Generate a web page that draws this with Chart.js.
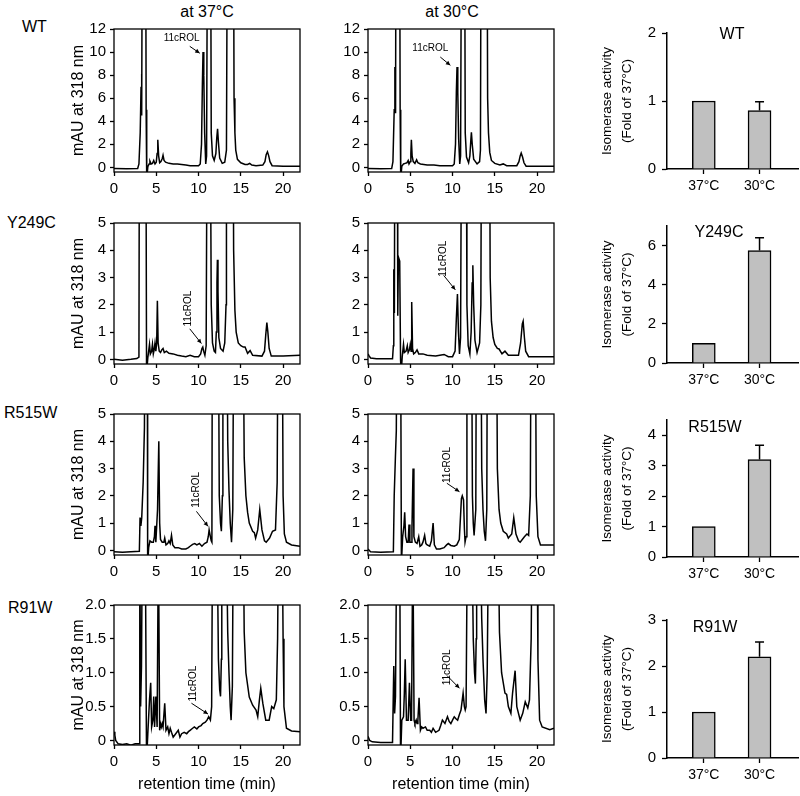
<!DOCTYPE html>
<html>
<head>
<meta charset="utf-8">
<script src="https://cdn.jsdelivr.net/npm/chart.js@4/dist/chart.umd.min.js"></script>
<style>
  body { margin: 0; background: #fff; width: 800px; height: 796px; position: relative; overflow: hidden;
         font-family: Arial, "Liberation Sans", sans-serif; }
  canvas { position: absolute; }
  .lbl { position: absolute; font-size: 16px; color: #000; white-space: nowrap; line-height: 1;
         transform: translate(-50%, -50%); }
  .row { position: absolute; font-size: 16px; color: #000; white-space: nowrap; line-height: 1;
         transform: translateY(-50%); }
</style>
</head>
<body>
<div class="lbl" style="left:207px;top:12px">at 37°C</div>
<div class="lbl" style="left:452px;top:12px">at 30°C</div>
<div class="row" style="left:22px;top:27px">WT</div>
<div class="row" style="left:7px;top:223px">Y249C</div>
<div class="row" style="left:4px;top:413px">R515W</div>
<div class="row" style="left:8px;top:608px">R91W</div>

<script>
// ---- chromatogram traces: [retention time (min), mAU] ----
const wt37 = [[0,-0.1],[1.5,-0.12],[2.8,-0.1],[2.95,0.3],[3.1,3],[3.2,7],[3.25,8.1],[3.3,4.5],[3.38,30],[3.72,30],[3.8,5],[3.87,-1],[4.0,0.05],[4.15,0.3],[4.25,0.55],[4.4,0.3],[4.55,0.35],[4.7,0.6],[4.85,0.3],[5.0,0.45],[5.1,1.2],[5.18,2.4],[5.28,1.0],[5.4,0.4],[5.55,0.5],[5.7,0.75],[5.8,1.05],[5.92,0.6],[6.1,0.45],[6.5,0.35],[7,0.3],[7.5,0.3],[8,0.25],[8.5,0.2],[9,0.15],[9.5,0.15],[10,0.15],[10.2,0.3],[10.35,2],[10.45,7],[10.53,10.0],[10.62,8],[10.72,3],[10.85,0.3],[10.95,1],[11.1,30],[11.4,30],[11.5,3],[11.65,1.0],[11.85,0.6],[12.05,1.2],[12.15,2.5],[12.25,3.35],[12.35,2.2],[12.5,0.8],[12.8,0.35],[13.1,0.45],[13.3,1.5],[13.45,30],[14.1,30],[14.2,6],[14.3,3],[14.4,1.5],[14.6,0.7],[15,0.4],[15.5,0.25],[15.8,0.25],[16.05,0.35],[16.3,0.2],[16.8,0.15],[17.6,0.2],[17.85,0.5],[18.0,1.1],[18.15,1.35],[18.3,1.0],[18.45,0.5],[18.7,0.15],[20,0.1],[22,0.1]];
const wt30 = [[0,-0.1],[1.5,-0.12],[2.8,-0.1],[2.95,0.5],[3.1,5],[3.18,8.7],[3.26,4.7],[3.33,30],[3.72,30],[3.8,5],[3.87,-1],[4.0,0.1],[4.2,0.3],[4.4,0.35],[4.6,0.4],[4.75,0.6],[4.85,0.3],[5.0,0.5],[5.07,1.2],[5.13,2.4],[5.22,1.0],[5.35,0.5],[5.55,0.35],[5.75,0.65],[5.9,0.4],[6.2,0.3],[7,0.2],[7.8,0.2],[8.5,0.15],[10,0.15],[10.2,0.3],[10.35,2],[10.45,6.5],[10.53,8.7],[10.62,6.5],[10.72,2.5],[10.85,0.3],[10.95,1],[11.1,30],[11.4,30],[11.5,3],[11.65,0.9],[11.9,0.4],[12.05,1.0],[12.15,2.2],[12.23,3.05],[12.33,2.0],[12.5,0.7],[12.9,0.3],[13.2,0.5],[13.3,1.5],[13.4,30],[14.05,30],[14.15,6],[14.25,3],[14.4,1.3],[14.6,0.6],[15,0.35],[15.6,0.2],[16.0,0.3],[16.4,0.15],[17.6,0.15],[17.85,0.5],[18.0,1.0],[18.12,1.25],[18.28,0.9],[18.45,0.4],[18.7,0.1],[22,0.1]];
const y249c37 = [[0,0],[1,-0.03],[2,0.0],[2.7,0.03],[2.95,0.08],[3.02,12],[3.75,12],[3.85,-0.5],[4.0,0.05],[4.1,0.3],[4.2,0.55],[4.3,0.2],[4.45,0.3],[4.55,0.55],[4.65,0.2],[4.75,0.35],[4.85,0.6],[4.95,0.3],[5.05,0.6],[5.13,2.15],[5.22,0.6],[5.35,0.3],[5.5,0.25],[5.65,0.35],[5.8,0.4],[5.95,0.25],[6.2,0.3],[6.5,0.22],[7,0.2],[7.5,0.15],[8,0.12],[8.5,0.1],[9,0.15],[9.5,0.1],[10,0.1],[10.25,0.2],[10.4,0.4],[10.5,0.45],[10.6,0.3],[10.75,0.15],[10.9,0.5],[11.05,12],[11.35,12],[11.5,2],[11.65,0.6],[11.85,0.3],[12.0,0.25],[12.1,1.0],[12.18,2.8],[12.23,3.65],[12.3,2.5],[12.4,0.8],[12.6,0.4],[12.9,0.3],[13.1,0.6],[13.25,2],[13.3,12],[14.05,12],[14.15,4],[14.3,1.8],[14.45,1.0],[14.7,0.6],[15.0,0.5],[15.3,0.45],[15.5,0.45],[15.8,0.22],[16.1,0.32],[16.4,0.15],[17.5,0.12],[17.8,0.3],[17.95,0.9],[18.08,1.35],[18.2,1.0],[18.35,0.4],[18.6,0.12],[20,0.12],[22,0.15]];
const y249c30 = [[0,0.2],[0.15,0.12],[0.3,0.05],[1,0.02],[2,0.02],[2.9,0.02],[3.0,0.5],[3.05,3.3],[3.12,1.7],[3.2,12],[3.45,12],[3.52,1.6],[3.6,3.75],[3.75,3.6],[3.85,0],[3.92,-0.5],[4.05,0.1],[4.2,0.55],[4.3,0.25],[4.5,0.3],[4.65,0.5],[4.75,0.25],[4.9,0.35],[5.0,0.55],[5.1,0.3],[5.17,2.1],[5.27,0.4],[5.4,0.2],[5.6,0.25],[5.8,0.35],[6.0,0.2],[6.5,0.2],[7,0.15],[8,0.12],[8.5,0.15],[9.0,0.18],[9.5,0.1],[10,0.1],[10.3,0.3],[10.45,1.5],[10.58,2.4],[10.7,1.0],[10.82,0.2],[10.95,0.8],[11.1,12],[11.6,12],[11.7,2],[11.85,0.5],[12.05,0.2],[12.2,1.0],[12.32,2.8],[12.4,3.45],[12.5,2.0],[12.65,0.7],[12.9,0.25],[13.2,0.6],[13.35,2],[13.45,12],[14.35,12],[14.45,3],[14.6,1.4],[14.8,0.8],[15.0,0.55],[15.3,0.4],[15.5,0.38],[15.85,0.2],[16.2,0.3],[16.6,0.15],[17.8,0.15],[18.05,0.6],[18.25,1.3],[18.35,1.4],[18.5,0.8],[18.65,0.3],[19,0.1],[22,0.1]];
const r515w37 = [[0,-0.05],[1,-0.07],[2,-0.05],[3.0,-0.03],[3.08,1.2],[3.18,0.9],[3.28,1.2],[3.45,2.5],[3.6,4.5],[3.7,12],[3.92,12],[3.98,-0.5],[4.1,0.1],[4.25,0.35],[4.45,0.3],[4.65,0.3],[4.78,0.5],[4.85,0.9],[4.95,0.3],[5.15,1.5],[5.3,4.0],[5.4,1.0],[5.5,0.4],[5.7,0.3],[5.9,0.3],[6.0,0.45],[6.15,0.2],[6.35,0.25],[6.5,0.35],[6.65,0.25],[6.8,0.55],[6.95,0.2],[7.2,0.1],[7.6,0.1],[8,0.05],[8.5,0.05],[8.8,0.1],[9,0.15],[9.3,0.22],[9.55,0.25],[9.8,0.2],[10.1,0.25],[10.4,0.15],[10.7,0.25],[11.0,0.3],[11.15,0.5],[11.25,0.75],[11.4,0.5],[11.5,0.35],[11.58,0.3],[11.65,12],[12.3,12],[12.45,2],[12.6,1.0],[12.7,0.7],[12.82,2],[12.88,12],[13.3,12],[13.45,4],[13.6,2.2],[13.75,1.0],[13.9,0.3],[14.05,1.5],[14.2,12],[15.2,12],[15.4,3.4],[15.6,2],[15.8,1.4],[16.0,1.0],[16.4,0.7],[16.6,0.65],[16.75,0.45],[17.0,0.75],[17.24,1.5],[17.5,0.75],[17.8,0.35],[18.0,0.3],[18.4,0.45],[18.75,0.7],[19.1,0.75],[19.3,2.5],[19.45,12],[19.85,12],[20.0,2],[20.15,0.6],[20.4,0.3],[21,0.2],[22,0.15]];
const r515w30 = [[0,0.05],[0.3,-0.05],[1.5,-0.07],[3.0,-0.05],[3.1,2],[3.25,3.5],[3.35,4.4],[3.45,12],[3.82,12],[3.95,-0.5],[4.1,0.5],[4.25,0.9],[4.34,1.4],[4.45,0.5],[4.6,0.3],[4.75,0.3],[4.85,0.95],[4.95,0.3],[5.1,0.3],[5.2,0.8],[5.33,3.0],[5.43,0.5],[5.6,0.3],[5.8,0.25],[6.0,0.5],[6.15,0.15],[6.35,0.2],[6.5,0.3],[6.7,0.55],[6.85,0.25],[7.0,0.2],[7.3,0.15],[7.5,0.35],[7.7,1.0],[7.85,0.2],[8.1,0.05],[8.5,0.05],[9,0.1],[9.3,0.2],[9.5,0.25],[9.8,0.18],[10.2,0.15],[10.5,0.2],[10.8,0.4],[10.95,1.3],[11.05,1.9],[11.15,2.0],[11.3,1.85],[11.4,0.8],[11.48,0.3],[11.6,0.5],[11.7,12],[12.2,12],[12.35,2],[12.45,1.0],[12.55,0.55],[12.75,1.5],[12.85,12],[13.3,12],[13.45,3],[13.6,1.5],[13.75,0.7],[13.9,0.35],[14.05,1.5],[14.15,12],[15.15,12],[15.3,3],[15.5,1.5],[15.7,1.0],[16,0.7],[16.4,0.6],[16.6,0.45],[17.0,0.6],[17.24,1.2],[17.5,0.6],[17.8,0.35],[18.0,0.3],[18.5,0.5],[18.8,0.6],[19.0,0.55],[19.2,2],[19.33,12],[19.75,12],[19.9,2],[20.1,0.5],[20.4,0.2],[22,0.2]];
const r91w37 = [[0,0.13],[0.1,0.08],[0.2,0.0],[0.5,-0.05],[1.0,-0.06],[1.5,-0.05],[2.0,-0.07],[2.5,-0.05],[3.0,-0.05],[3.05,3],[3.15,0.5],[3.25,1.1],[3.35,3],[3.7,3],[3.85,-0.3],[4.0,0.1],[4.2,0.6],[4.34,0.85],[4.45,0.2],[4.6,0.3],[4.7,0.65],[4.8,0.2],[4.95,0.65],[5.1,0.2],[5.25,3],[5.4,0.15],[5.5,0.25],[5.6,0.2],[5.7,0.25],[5.8,0.2],[6.0,0.55],[6.15,0.15],[6.35,0.2],[6.5,0.1],[6.65,0.18],[6.8,0.12],[7.0,0.05],[7.3,0.1],[7.6,0.15],[7.8,0.05],[8.0,0.1],[8.3,0.12],[8.6,0.1],[8.8,0.13],[9.0,0.15],[9.3,0.18],[9.5,0.2],[9.8,0.17],[10,0.2],[10.3,0.22],[10.5,0.25],[10.8,0.27],[11,0.3],[11.2,0.35],[11.4,0.3],[11.55,0.5],[11.65,3],[12.2,3],[12.35,1.2],[12.5,0.75],[12.6,0.65],[12.7,1.2],[12.75,3],[13.3,3],[13.45,1.6],[13.6,1.0],[13.75,0.5],[13.85,0.3],[14.0,0.8],[14.1,3],[15.3,3],[15.4,1.6],[15.6,1.0],[16,0.64],[16.4,0.52],[16.8,0.45],[17.0,0.35],[17.2,0.6],[17.36,0.77],[17.6,0.55],[17.95,0.3],[18.35,0.3],[18.65,0.5],[18.9,0.47],[19.2,0.6],[19.35,1.5],[19.45,3],[19.9,3],[20.0,1.5],[20.1,0.5],[20.4,0.18],[21,0.14],[22,0.13]];
const r91w30 = [[0,0.06],[0.2,0.0],[0.5,-0.02],[1.5,-0.03],[2.9,-0.03],[3.05,1.1],[3.15,0.4],[3.25,0.65],[3.4,3],[3.75,3],[3.85,-0.3],[4.0,0.3],[4.2,0.35],[4.3,0.7],[4.4,1.2],[4.55,0.3],[4.75,0.3],[4.9,0.85],[5.05,0.3],[5.15,0.3],[5.3,3],[5.45,0.3],[5.55,0.25],[5.7,0.3],[5.8,0.25],[5.9,0.3],[6.04,0.63],[6.2,0.15],[6.35,0.2],[6.5,0.18],[6.8,0.2],[7.0,0.15],[7.3,0.15],[7.5,0.12],[7.7,0.18],[8.0,0.12],[8.4,0.15],[8.6,0.22],[8.8,0.3],[9.1,0.25],[9.4,0.35],[9.6,0.28],[9.8,0.25],[10.0,0.3],[10.2,0.35],[10.4,0.32],[10.6,0.3],[10.8,0.38],[11.0,0.45],[11.25,0.7],[11.4,0.5],[11.5,0.45],[11.6,0.5],[11.75,3],[12.3,3],[12.45,1.5],[12.6,1.0],[12.7,0.84],[12.8,1.5],[12.85,3],[13.3,3],[13.45,1.8],[13.6,1.2],[13.8,0.6],[13.96,0.4],[14.1,1.0],[14.25,3],[15.4,3],[15.55,1.6],[15.8,1.0],[16.2,0.7],[16.4,0.68],[16.6,0.5],[16.9,0.4],[17.1,0.7],[17.4,1.03],[17.6,0.5],[18.0,0.3],[18.3,0.4],[18.6,0.57],[18.9,0.48],[19.1,0.6],[19.3,1.5],[19.4,3],[20.0,3],[20.1,1.2],[20.3,0.3],[20.6,0.2],[21.5,0.16],[22,0.18]];

// y ranges of each chromatogram row: [min, max, step]
const yRanges = [[-0.4, 12, 2], [-0.17, 5, 1], [-0.17, 5, 1], [-0.067, 2, 0.5]];

// "11cROL" labels: text position, arrow start, arrow tip (data units), rotated?
const notes = [
  [{ at: [8.0, 11.2], from: [8.96, 10.5], to: [10.14, 9.9], rot: false },
   { at: [7.37, 10.3], from: [8.55, 9.57], to: [9.74, 8.85], rot: false }],
  [{ at: [8.76, 1.86], from: [8.96, 1.12], to: [10.34, 0.58], rot: true },
   { at: [8.95, 3.69], from: [8.95, 3.08], to: [10.33, 2.55], rot: true }],
  [{ at: [9.75, 2.22], from: [9.75, 1.43], to: [11.12, 0.88], rot: true },
   { at: [9.33, 3.13], from: [9.33, 2.46], to: [10.82, 2.15], rot: true }],
  [{ at: [9.35, 0.84], from: [9.16, 0.55], to: [11.12, 0.39], rot: true },
   { at: [9.33, 1.08], from: [9.33, 0.96], to: [10.82, 0.77], rot: true }]
];

// ---- isomerase activity bars ----
const barLabels = ['37°C', '30°C'];
const mutants = ['WT', 'Y249C', 'R515W', 'R91W'];
const activity = [[1, 0.86], [1, 5.75], [1, 3.2], [1, 2.2]];
const activityErr = [[0, 0.13], [0, 0.65], [0, 0.47], [0, 0.32]];
const barRanges = [[2, 1], [7, 2], [4.5, 1], [3, 1]];

const FONT = 'Arial, "Liberation Sans", sans-serif';

// plot boxes on the page
const chromTops = [28.3, 222.3, 413.3, 604];
const chromBottoms = [172.3, 364, 555.7, 745.3];
const chromCols = [[114.3, 300.3], [367.7, 553.6]];
const barTops = [28.3, 220.7, 415, 615];
const barBottoms = [169.3, 363, 556.7, 758];
const barTitleOffset = [[65, 2], [52, 7], [48, 8], [48, 8]];

function addCanvas(x, y, w, h) {
  const c = document.createElement('canvas');
  c.width = Math.round(w); c.height = Math.round(h);
  c.style.left = Math.round(x) + 'px'; c.style.top = Math.round(y) + 'px';
  document.body.appendChild(c);
  return c;
}

const frame = {
  id: 'frame',
  afterDatasetsDraw(chart) {
    const { ctx, chartArea: a } = chart;
    ctx.save();
    ctx.strokeStyle = '#000'; ctx.lineWidth = 1.3;
    ctx.strokeRect(a.left, a.top, a.right - a.left, a.bottom - a.top);
    ctx.restore();
  }
};

function notePlugin(n) {
  return {
    id: 'note',
    afterDatasetsDraw(chart) {
      const { ctx, scales: { x, y } } = chart;
      const px = p => [x.getPixelForValue(p[0]), y.getPixelForValue(p[1])];
      const [tx, ty] = px(n.at), [fx, fy] = px(n.from), [ex, ey] = px(n.to);
      ctx.save();
      ctx.fillStyle = '#000';
      ctx.font = '10px ' + FONT;
      ctx.textAlign = 'center'; ctx.textBaseline = 'middle';
      ctx.translate(tx, ty);
      if (n.rot) ctx.rotate(-Math.PI / 2);
      ctx.fillText('11cROL', 0, 0);
      ctx.restore();
      ctx.save();
      ctx.strokeStyle = '#000'; ctx.fillStyle = '#000'; ctx.lineWidth = 1;
      ctx.beginPath(); ctx.moveTo(fx, fy); ctx.lineTo(ex, ey); ctx.stroke();
      const ang = Math.atan2(ey - fy, ex - fx);
      ctx.beginPath();
      ctx.moveTo(ex, ey);
      ctx.lineTo(ex - 5 * Math.cos(ang - 0.45), ey - 5 * Math.sin(ang - 0.45));
      ctx.lineTo(ex - 5 * Math.cos(ang + 0.45), ey - 5 * Math.sin(ang + 0.45));
      ctx.closePath(); ctx.fill();
      ctx.restore();
    }
  };
}

function chromChart(row, col, trace) {
  const m = { left: 60, top: 12, right: 10, bottom: 50 };
  const [x0, x1] = chromCols[col];
  const t = chromTops[row], b = chromBottoms[row];
  const c = addCanvas(x0 - m.left, t - m.top, x1 - x0 + m.left + m.right, b - t + m.top + m.bottom);
  const [ymin, ymax, ystep] = yRanges[row];
  const axisGrid = { drawOnChartArea: false, drawTicks: true, tickLength: 4, tickColor: '#000', tickWidth: 1.3 };
  new Chart(c, {
    type: 'line',
    data: { datasets: [{ data: trace.map(([x, y]) => ({ x, y })), borderColor: '#000', borderWidth: 1.5,
                         pointRadius: 0, tension: 0, fill: false }] },
    options: {
      responsive: false, animation: false,
      layout: { padding: { top: m.top, right: m.right, left: 0, bottom: 0 } },
      plugins: { legend: { display: false }, tooltip: { enabled: false } },
      scales: {
        x: {
          type: 'linear', min: 0, max: 22,
          afterFit: s => { s.height = m.bottom; },
          border: { display: false },
          grid: axisGrid,
          ticks: { stepSize: 5, includeBounds: false, color: '#000', padding: 4, maxRotation: 0,
                   font: { family: FONT, size: 15 } },
          title: { display: row === 3, text: 'retention time (min)', color: '#000',
                   font: { family: FONT, size: 16 }, padding: { top: 0, bottom: 1 } }
        },
        y: {
          min: ymin, max: ymax,
          afterFit: s => { s.width = m.left; },
          border: { display: false },
          grid: axisGrid,
          ticks: { stepSize: ystep, includeBounds: false, color: '#000', padding: 4,
                   font: { family: FONT, size: 15 },
                   callback: v => (row === 3 && v !== 0) ? v.toFixed(1) : String(v) },
          title: { display: col === 0, text: 'mAU at 318 nm', color: '#000',
                   font: { family: FONT, size: 16 }, padding: { top: 15, bottom: 0 } }
        }
      }
    },
    plugins: [frame, notePlugin(notes[row][col])]
  });
}

function barChart(row) {
  const m = { left: 77, top: 10, right: 2, bottom: 30 };
  const x0 = 667.3, x1 = 798;
  const t = barTops[row], b = barBottoms[row];
  const c = addCanvas(x0 - m.left, t - m.top, x1 - x0 + m.left + m.right, b - t + m.top + m.bottom);
  const vals = activity[row], errs = activityErr[row];
  const [ymax, ystep] = barRanges[row];
  const axisGrid = { drawOnChartArea: false, drawTicks: true, tickLength: 5, tickColor: '#000', tickWidth: 1.3, offset: false };

  const errorBars = {
    id: 'errorBars',
    afterDatasetsDraw(chart) {
      const { ctx, scales: { x, y } } = chart;
      ctx.save();
      ctx.strokeStyle = '#000'; ctx.lineWidth = 1.5;
      errs.forEach((e, i) => {
        if (!e) return;
        const px = x.getPixelForValue(i + 1);
        const yb = y.getPixelForValue(vals[i]);
        const yt = y.getPixelForValue(vals[i] + e);
        ctx.beginPath();
        ctx.moveTo(px, yb); ctx.lineTo(px, yt);
        ctx.moveTo(px - 4.5, yt); ctx.lineTo(px + 4.5, yt);
        ctx.stroke();
      });
      ctx.restore();
    }
  };
  const panelTitle = {
    id: 'panelTitle',
    afterDraw(chart) {
      const { ctx, chartArea: a } = chart;
      const [dx, dy] = barTitleOffset[row];
      ctx.save();
      ctx.fillStyle = '#000'; ctx.font = '16px ' + FONT;
      ctx.textAlign = 'center'; ctx.textBaseline = 'middle';
      ctx.fillText(mutants[row], a.left + dx, a.top + dy);
      ctx.restore();
    }
  };

  new Chart(c, {
    type: 'bar',
    data: { datasets: [{ data: vals.map((v, i) => ({ x: i + 1, y: v })), backgroundColor: '#c0c0c0',
                         borderColor: '#000', borderWidth: 1.5, barThickness: 23 }] },
    options: {
      responsive: false, animation: false,
      layout: { padding: { top: m.top, right: m.right, left: 0, bottom: 0 } },
      plugins: { legend: { display: false }, tooltip: { enabled: false } },
      scales: {
        x: {
          type: 'linear', min: 0.34, max: 2.69, offset: false,
          afterFit: s => { s.height = m.bottom; },
          afterBuildTicks: s => { s.ticks = barLabels.map((_, i) => ({ value: i + 1 })); },
          border: { color: '#000', width: 1.5 },
          grid: axisGrid,
          ticks: { color: '#000', padding: 4, maxRotation: 0, autoSkip: false,
                   font: { family: FONT, size: 14 }, callback: v => barLabels[v - 1] }
        },
        y: {
          min: 0, max: ymax,
          afterFit: s => { s.width = m.left; },
          border: { color: '#000', width: 1.5 },
          grid: axisGrid,
          ticks: { stepSize: ystep, includeBounds: false, color: '#000', padding: 6,
                   font: { family: FONT, size: 15 } },
          title: { display: true, text: ['Isomerase activity', '(Fold of 37°C)'], color: '#000',
                   font: { family: FONT, size: 13.5, lineHeight: 1.5 }, padding: { top: 7, bottom: 0 } }
        }
      }
    },
    plugins: [errorBars, panelTitle]
  });
}

const traces = [[wt37, wt30], [y249c37, y249c30], [r515w37, r515w30], [r91w37, r91w30]];
traces.forEach((pair, row) => {
  pair.forEach((tr, col) => chromChart(row, col, tr));
  barChart(row);
});
</script>
</body>
</html>
